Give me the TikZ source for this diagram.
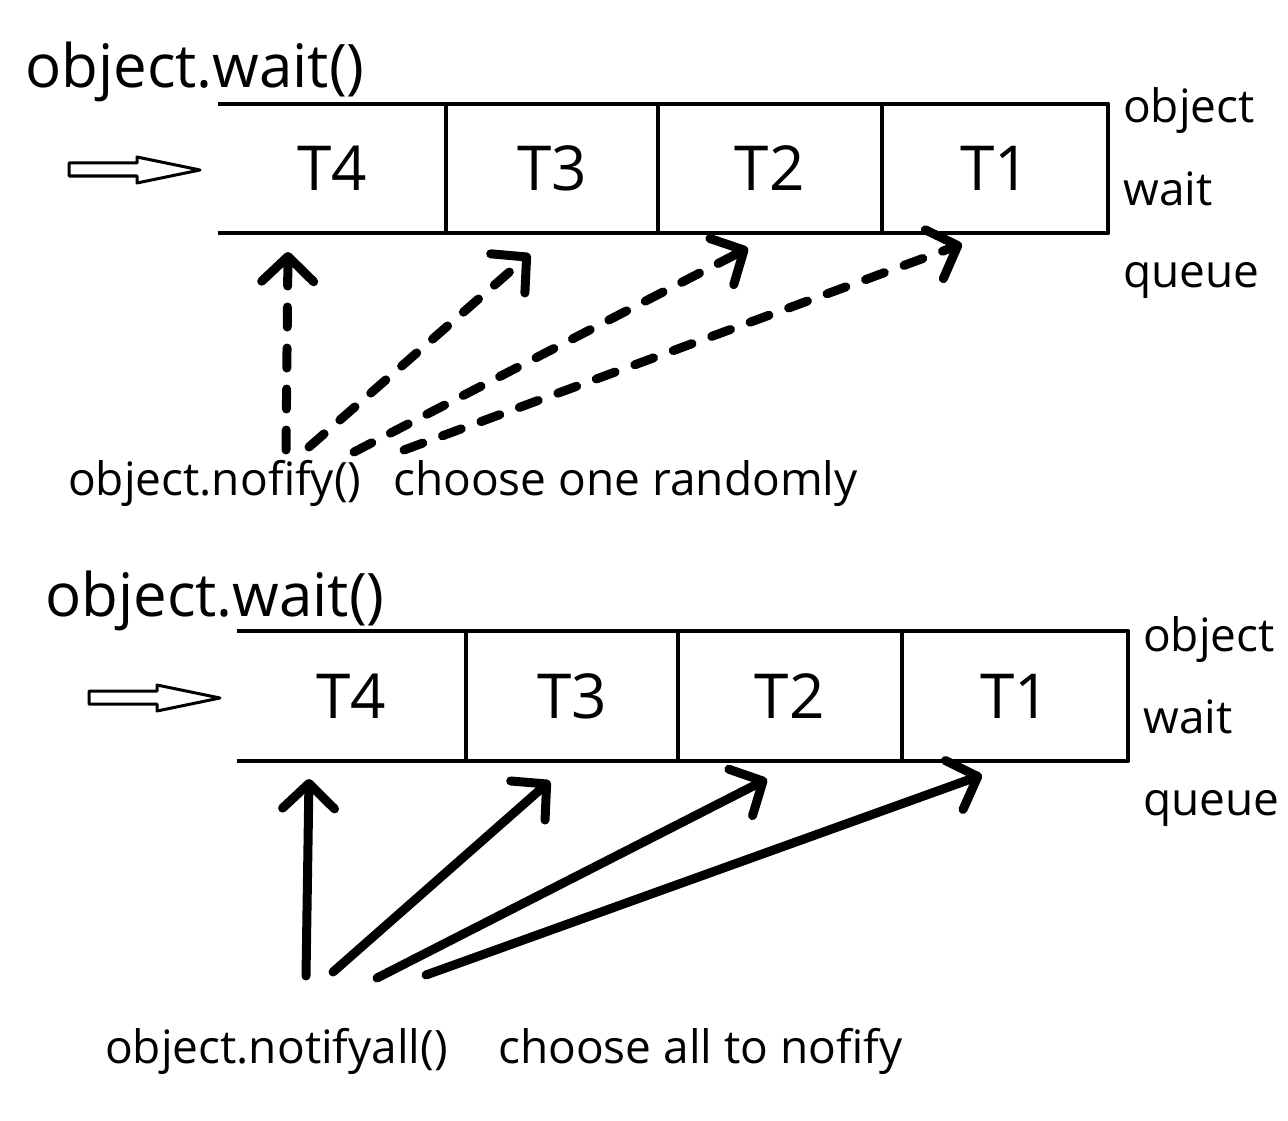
\documentclass[tikz,border=0pt]{standalone}
\usepackage{fontspec}
\setmainfont{Open Sans}
\usetikzlibrary{positioning,arrows.meta}

\begin{document}
\begin{tikzpicture}[x=1pt, y=-1pt, line join=round,
  cell/.style = {minimum height=129pt, inner sep=0pt, font=\fontsize{62}{62}\selectfont},
  heading/.style = {anchor=base west, inner sep=0pt, font=\fontsize{60}{60}\selectfont},
  caption/.style = {anchor=base west, inner sep=0pt, font=\fontsize{46}{46}\selectfont},
  queue/.style = {line width=4pt},
  pick/.style = {line width=9pt, line cap=round, -{Straight Barb[length=25pt, width=52pt, line cap=round, line join=round]}},
  picksome/.style = {pick, dash pattern=on 20pt off 21pt},
  hollow/.style = {line width=3pt}]
                    \useasboundingbox (0,0) rectangle (1288,1121);
                    % notify: one thread
                    \node[heading] (w0) at (25,88) {object.wait()};
                    \node[cell, minimum width=228pt] (a4) at (332,168.5) {T4};
                    \node[cell, minimum width=211pt] (a3) [right=0pt of a4] {T3};
                    \node[cell, minimum width=224pt] (a2) [right=0pt of a3] {T2};
                    \node[cell, minimum width=226pt] (a1) [right=0pt of a2] {T1};
                    \node[caption] (s0) at (1123,123) {object};
                    \node[caption] (s1) at (1123,205) {wait};
                    \node[caption] (s2) at (1123,287) {queue};
                    \node[caption] (n0) at (68,495) {object.nofify()};
                    \node[caption] (n1) at (393,495) {choose one randomly};
                    \draw[queue] (a4.north west) -- (a1.north east) -- (a1.south east) -- (a4.south west);
                    \draw[queue] (a4.north east) -- (a4.south east);
                    \draw[queue] (a3.north east) -- (a3.south east);
                    \draw[queue] (a2.north east) -- (a2.south east);
                    \draw[hollow] (69,163) -- (137,163) -- (137,157) -- (200,170) -- (137,183) -- (137,176) -- (69,176) -- cycle;
                    \coordinate (p1) at (286,450);
                    \coordinate (p2) at (309,447);
                    \coordinate (p3) at (354,452);
                    \coordinate (p4) at (404,450);
                    \coordinate (q1) at (288,252);
                    \coordinate (q2) at (530,254);
                    \coordinate (q3) at (748,248);
                    \coordinate (q4) at (962,244);
                    \draw[picksome] (p1) -- (q1);
                    \draw[picksome] (p2) -- (q2);
                    \draw[picksome] (p3) -- (q3);
                    \draw[picksome] (p4) -- (q4);
                    % notifyall: every thread
                    \node[heading] (w1) at (45,616) {object.wait()};
                    \node[cell, minimum width=229pt] (b4) at (351.5,696) {T4};
                    \node[cell, minimum width=211pt] (b3) [right=0pt of b4] {T3};
                    \node[cell, minimum width=224pt] (b2) [right=0pt of b3] {T2};
                    \node[cell, minimum width=226pt] (b1) [right=0pt of b2] {T1};
                    \node[caption] (t0) at (1143,651) {object};
                    \node[caption] (t1) at (1143,733) {wait};
                    \node[caption] (t2) at (1143,815) {queue};
                    \node[caption] (m0) at (105,1063) {object.notifyall()};
                    \node[caption] (m1) at (498,1063) {choose all to nofify};
                    \draw[queue] (b4.north west) -- (b1.north east) -- (b1.south east) -- (b4.south west);
                    \draw[queue] (b4.north east) -- (b4.south east);
                    \draw[queue] (b3.north east) -- (b3.south east);
                    \draw[queue] (b2.north east) -- (b2.south east);
                    \draw[hollow] (89,691) -- (157,691) -- (157,685) -- (220,698) -- (157,711) -- (157,704) -- (89,704) -- cycle;
                    \coordinate (u1) at (306,976);
                    \coordinate (u2) at (333,972);
                    \coordinate (u3) at (377,978);
                    \coordinate (u4) at (426,975);
                    \coordinate (v1) at (309,779);
                    \coordinate (v2) at (550,781);
                    \coordinate (v3) at (767,779);
                    \coordinate (v4) at (982,775);
                    \draw[pick] (u1) -- (v1);
                    \draw[pick] (u2) -- (v2);
                    \draw[pick] (u3) -- (v3);
                    \draw[pick] (u4) -- (v4);
                \end{tikzpicture}
\end{document}
